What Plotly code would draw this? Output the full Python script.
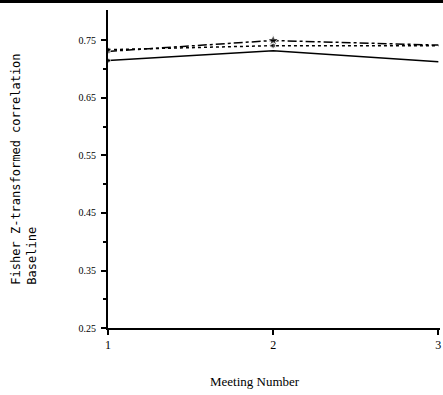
import plotly.graph_objects as go

meetings = [1, 2, 3]
solid_vals = [0.715, 0.732, 0.713]
dashdot_vals = [0.731, 0.750, 0.742]
dotted_vals = [0.734, 0.741, 0.741]
y_ticks = [0.25, 0.35, 0.45, 0.55, 0.65, 0.75]
y_tick_text = ["0.25", "0.35", "0.45", "0.55", "0.65", "0.75"]
x_ticks = [1, 2, 3]

fig = go.Figure()
fig.add_trace(go.Scatter(x=meetings, y=solid_vals, mode="lines+markers",
                         line=dict(color="black", width=1.5, dash="solid"),
                         marker=dict(symbol="circle", size=[5, 0, 0], color="black"),
                         showlegend=False))
fig.add_trace(go.Scatter(x=meetings, y=dashdot_vals, mode="lines+markers",
                         line=dict(color="black", width=1.5, dash="dashdot"),
                         marker=dict(symbol=["circle", "star", "circle"], size=[5, 9, 0], color="black"),
                         showlegend=False))
fig.add_trace(go.Scatter(x=meetings, y=dotted_vals, mode="lines+markers",
                         line=dict(color="black", width=1.5, dash="dot"),
                         marker=dict(symbol="circle", size=[5, 5, 0], color="black"),
                         showlegend=False))

fig.update_layout(
    width=443, height=392,
    margin=dict(l=108, r=3, t=7, b=67),
    paper_bgcolor="white", plot_bgcolor="white",
    font=dict(family="Liberation Serif", color="black", size=10),
    xaxis=dict(range=[1, 3.01], tickvals=x_ticks, showline=True, linecolor="black",
               linewidth=2, ticks="outside", ticklen=5, tickwidth=2, tickcolor="black",
               showgrid=False, zeroline=False,
               tickfont=dict(family="Liberation Serif", size=12)),
    yaxis=dict(range=[0.25, 0.803], tickvals=y_ticks, ticktext=y_tick_text,
               showline=True, linecolor="black", linewidth=2, ticks="outside",
               ticklen=5, tickwidth=1.5, tickcolor="black", showgrid=False, zeroline=False,
               ticklabelstandoff=3,
               minor=dict(tickvals=[0.30, 0.40, 0.50, 0.60, 0.70], ticks="outside",
                          ticklen=3, tickcolor="black", tickwidth=1.5),
               tickfont=dict(family="Liberation Serif", size=10)),
)
fig.add_annotation(text="Fisher Z-transformed correlation<br>Baseline",
                   xref="paper", yref="paper", x=(24 - 108) / 332, y=0.498,
                   xanchor="center", yanchor="middle", textangle=-90, align="left",
                   showarrow=False,
                   font=dict(family="DejaVu Sans Mono", size=12, color="black"))
fig.add_annotation(text="Meeting Number", xref="paper", yref="paper",
                   x=(255 - 108) / 332, y=(325 - 378) / 318,
                   xanchor="center", yanchor="middle", showarrow=False,
                   font=dict(family="Liberation Serif", size=13, color="black"))

fig.write_html("out.html", config={"displayModeBar": False})

with open("out.html", "r", encoding="utf-8") as f:
    html = f.read()
html = html.replace(
    "<body>",
    '<body style="margin:0;padding:0;overflow:hidden;border-top:3px solid black">', 1)
with open("out.html", "w", encoding="utf-8") as f:
    f.write(html)
